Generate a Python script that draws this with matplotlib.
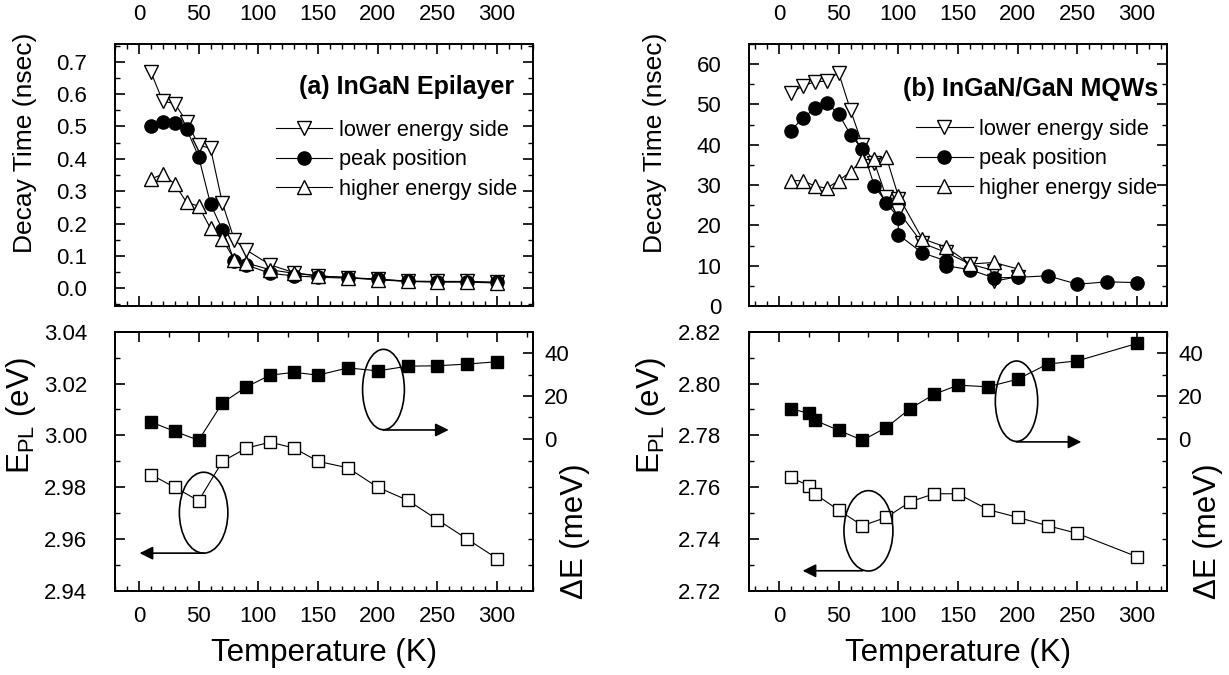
import matplotlib
matplotlib.use('Agg')
import matplotlib.pyplot as plt
from matplotlib.patches import Ellipse
from matplotlib.ticker import MultipleLocator, FixedLocator, NullFormatter

plt.rcParams['font.family'] = ['Liberation Sans', 'DejaVu Sans']
plt.rcParams['mathtext.fontset'] = 'custom'
plt.rcParams['mathtext.rm'] = 'Liberation Sans'
plt.rcParams['mathtext.it'] = 'Liberation Sans:italic'

# ---------------- data: (a) InGaN epilayer, decay time (ns) ----------------
a_T = [10, 20, 30, 40, 50, 60, 70, 80, 90, 110, 130, 150, 175, 200, 225, 250, 275, 300]
a_lower = [0.669, 0.578, 0.571, 0.515, 0.443, 0.432, 0.262, 0.149, 0.118, 0.072,
           0.048, 0.038, 0.033, 0.028, 0.022, 0.021, 0.021, 0.018]
a_peak = [0.500, 0.514, 0.510, 0.492, 0.407, 0.260, 0.180, 0.085, 0.072, 0.046,
          0.038, 0.034, 0.031, 0.028, 0.021, 0.020, 0.020, 0.018]
a_higher = [0.337, 0.353, 0.322, 0.265, 0.254, 0.185, 0.151, 0.088, 0.078, 0.057,
            0.046, 0.038, 0.033, 0.026, 0.021, 0.019, 0.019, 0.016]

# ---------------- data: (b) InGaN/GaN MQWs, decay time (ns) ----------------
b_T_lower = [10, 20, 30, 40, 50, 60, 70, 80, 90, 100, 100, 120, 140, 160, 180, 180, 200]
b_lower = [52.8, 54.6, 55.6, 55.8, 57.9, 48.6, 40.0, 35.6, 27.0, 26.5, 23.5, 15.6,
           13.3, 10.4, 8.8, 6.1, 7.3]
b_T_peak = [10, 20, 30, 40, 50, 60, 70, 80, 90, 100, 100, 120, 140, 140, 160, 180,
            200, 225, 250, 275, 300]
b_peak = [43.5, 46.6, 49.0, 50.3, 47.7, 42.5, 38.9, 29.8, 25.6, 21.9, 17.7, 13.2,
          11.2, 10.0, 9.0, 7.0, 7.1, 7.5, 5.4, 6.0, 5.8]
b_T_higher = [10, 20, 30, 40, 50, 60, 70, 80, 90, 100, 120, 140, 160, 180, 200]
b_higher = [31.1, 31.1, 29.8, 29.2, 31.1, 33.3, 36.3, 36.4, 36.9, 27.3, 16.7, 14.6,
            10.4, 10.8, 9.2]

# ---------------- data: PL peak energy (eV) and energy shift (meV) ----------------
a_T_E = [10, 30, 50, 70, 90, 110, 130, 150, 175, 200, 225, 250, 275, 300]
a_EPL = [2.9849, 2.9800, 2.9748, 2.9900, 2.9951, 2.9974, 2.9951, 2.9900, 2.9875,
         2.9800, 2.9750, 2.9675, 2.9600, 2.9525]
a_dE = [7.8, 3.4, -0.8, 16.8, 24.3, 29.8, 31.1, 29.8, 33.2, 31.8, 34.0, 34.2, 35.0, 36.1]

b_T_E = [10, 25, 30, 50, 70, 90, 110, 130, 150, 175, 200, 225, 250, 300]
b_EPL = [2.7638, 2.7606, 2.7575, 2.7512, 2.7452, 2.7484, 2.7544, 2.7575, 2.7575,
         2.7514, 2.7484, 2.7452, 2.7422, 2.7332]
b_dE = [14.1, 11.8, 8.6, 3.9, -0.8, 5.2, 14.1, 20.8, 25.1, 24.3, 27.9, 35.0, 36.5, 44.7]

x_ticks = [0, 50, 100, 150, 200, 250, 300]
legend_labels = ['lower energy side', 'peak position', 'higher energy side']

# ---------------- figure ----------------
fig = plt.figure(figsize=(12.29, 6.75), dpi=100)
W, H = 1229.0, 675.0

def rect(x0, y_top, x1, y_bot):
    return [x0 / W, 1 - y_bot / H, (x1 - x0) / W, (y_bot - y_top) / H]

axA = fig.add_axes(rect(115, 44, 533, 306))
axB = fig.add_axes(rect(749, 44, 1167, 306))
axC = fig.add_axes(rect(115, 331.7, 533, 591))
axD = fig.add_axes(rect(749, 331.7, 1167, 591))

TICK_FS = 16
LW = 0.8
SPINE_LW = 1.4
MAJ_LEN, MIN_LEN = 7, 3.5
BIG_FS = 22.5

def style_spines(ax):
    for s in ax.spines.values():
        s.set_linewidth(SPINE_LW)

def decay_panel(ax, Tl, yl, Tp, yp, Th, yh, xlim, ylim, ymaj, ymin, title, tx, ty, lx, ly,
                fmt, leg_x, leg_y):
    l1, = ax.plot(Tl, yl, '-', color='k', lw=LW, marker='v', ms=10.5, mfc='white',
                  mec='k', mew=1.0)
    l2, = ax.plot(Tp, yp, '-', color='k', lw=LW, marker='o', ms=9.5, mfc='k', mec='k')
    l3, = ax.plot(Th, yh, '-', color='k', lw=LW, marker='^', ms=10.5, mfc='white',
                  mec='k', mew=1.0)
    ax.set_xlim(*xlim)
    ax.set_ylim(*ylim)
    ax.xaxis.set_major_locator(FixedLocator(x_ticks))
    ax.xaxis.set_minor_locator(MultipleLocator(10))
    ax.yaxis.set_major_locator(MultipleLocator(ymaj))
    ax.yaxis.set_minor_locator(MultipleLocator(ymin))
    ax.yaxis.set_major_formatter(plt.FormatStrFormatter(fmt))
    ax.tick_params(axis='x', which='both', direction='in', top=True, bottom=True,
                   labeltop=True, labelbottom=False, labelsize=TICK_FS, pad=14)
    ax.tick_params(axis='y', which='both', direction='in', left=True, right=True,
                   labelsize=TICK_FS, pad=20)
    ax.tick_params(which='major', length=MAJ_LEN, width=1.2)
    ax.tick_params(which='minor', length=MIN_LEN, width=1.0)
    style_spines(ax)
    ax.set_ylabel('Decay Time (nsec)', fontsize=19)
    ax.yaxis.set_label_coords(lx, ly)
    ax.text(tx, ty, title, transform=ax.transAxes, ha='right', va='center',
            fontsize=18, fontweight='bold')
    ax.legend([l1, l2, l3], legend_labels, loc='center left', bbox_to_anchor=(leg_x, leg_y),
              frameon=False, fontsize=15.7, handlelength=2.6, handletextpad=0.3,
              labelspacing=0.38, borderpad=0, borderaxespad=0, numpoints=1)

decay_panel(axA, a_T, a_lower, a_T, a_peak, a_T, a_higher, (-20, 330), (-0.055, 0.755),
            0.1, 0.05, '(a) InGaN Epilayer', 0.9545, 0.835, -0.187, 0.622, '%.1f',
            0.3845, 0.558)
decay_panel(axB, b_T_lower, b_lower, b_T_peak, b_peak, b_T_higher, b_higher,
            (-25, 325), (0, 65), 10, 5, '(b) InGaN/GaN MQWs', 0.9785, 0.830, -0.195, 0.622,
            '%d', 0.3995, 0.562)

def energy_panel(ax, T, E, dE, xlim, ylim, dE_lim, lower_ticks, ell1, arr1, ell2, arr2):
    ax.plot(T, E, '-', color='k', lw=LW, marker='s', ms=8.5, mfc='white', mec='k', mew=1.0,
            zorder=3)
    tw = ax.twinx()
    tw.plot(T, dE, '-', color='k', lw=LW, marker='s', ms=8.5, mfc='k', mec='k', zorder=3)
    ax.set_xlim(*xlim)
    ax.set_ylim(*ylim)
    tw.set_ylim(*dE_lim)
    ax.xaxis.set_major_locator(FixedLocator(x_ticks))
    ax.xaxis.set_minor_locator(MultipleLocator(10))
    ax.yaxis.set_major_locator(MultipleLocator(0.02))
    ax.yaxis.set_minor_locator(MultipleLocator(0.01))
    ax.yaxis.set_major_formatter(plt.FormatStrFormatter('%.2f'))
    ax.tick_params(axis='x', which='both', direction='in', top=False, bottom=True,
                   labelsize=TICK_FS, pad=11)
    ax.tick_params(axis='y', which='both', direction='in', left=True, right=False,
                   labelsize=TICK_FS, pad=20)
    ax.tick_params(which='major', length=MAJ_LEN, width=1.2)
    ax.tick_params(which='minor', length=MIN_LEN, width=1.0)
    # ticks on the top spine
    sx = ax.secondary_xaxis('top')
    sx.xaxis.set_major_locator(FixedLocator(x_ticks))
    sx.xaxis.set_minor_locator(MultipleLocator(25))
    sx.xaxis.set_major_formatter(NullFormatter())
    sx.tick_params(which='both', direction='in')
    sx.tick_params(which='major', length=MAJ_LEN, width=1.2)
    sx.tick_params(which='minor', length=MIN_LEN, width=1.0)
    sx.spines['top'].set_linewidth(SPINE_LW)
    # lower right-hand ticks mirrored from the left axis
    sy = ax.secondary_yaxis('right')
    sy.yaxis.set_major_locator(FixedLocator(lower_ticks))
    sy.yaxis.set_major_formatter(NullFormatter())
    sy.tick_params(direction='in', length=MIN_LEN, width=1.0)
    sy.spines['right'].set_linewidth(SPINE_LW)
    tw.yaxis.set_major_locator(FixedLocator([0, 20, 40]))
    tw.yaxis.set_minor_locator(FixedLocator([10, 30]))
    tw.tick_params(axis='y', which='both', direction='in', labelsize=TICK_FS, pad=8)
    tw.tick_params(which='major', length=MAJ_LEN, width=1.2)
    tw.tick_params(which='minor', length=MIN_LEN, width=1.0)
    style_spines(ax)
    style_spines(tw)
    ax.set_xlabel('Temperature (K)', fontsize=BIG_FS, labelpad=8)
    ax.set_ylabel(r'$\mathregular{E_{PL}}$ (eV)', fontsize=BIG_FS)
    tw.set_ylabel('\u0394E (meV)', fontsize=BIG_FS)
    for (cx, cy, w, h), (x0, y0, x1) in [(ell1, arr1), (ell2, arr2)]:
        ax.add_patch(Ellipse((cx, cy), w, h, fill=False, ec='k', lw=1.2, zorder=4))
        ax.annotate('', xy=(x1, y0), xytext=(x0, y0),
                    arrowprops=dict(arrowstyle='-|>', color='k', lw=1.2,
                                    mutation_scale=20, shrinkA=0, shrinkB=0), zorder=4)
    return tw

twC = energy_panel(axC, a_T_E, a_EPL, a_dE, (-20, 330), (2.94, 3.04), (-71.6, 50.2),
                   [2.99, 2.98, 2.97, 2.96, 2.95],
                   (54.2, 2.9702, 40.6, 0.0312), (54.2, 2.9546, 0.6),
                   (204.8, 3.0177, 35.0, 0.031), (204.8, 3.0021, 259.4))
twD = energy_panel(axD, b_T_E, b_EPL, b_dE, (-25, 325), (2.72, 2.82), (-71.6, 50.2),
                   [2.77, 2.76, 2.75, 2.74, 2.73],
                   (75.0, 2.7432, 41.0, 0.031), (70.2, 2.7278, 19.9),
                   (199.0, 2.7932, 35.5, 0.031), (198.8, 2.7775, 253.3))

axC.yaxis.set_label_coords(-0.184, 0.675)
axD.yaxis.set_label_coords(-0.194, 0.675)
twC.yaxis.set_label_coords(1.0646, 0.231)
twD.yaxis.set_label_coords(1.063, 0.231)

fig.savefig('out.png', dpi=100)
